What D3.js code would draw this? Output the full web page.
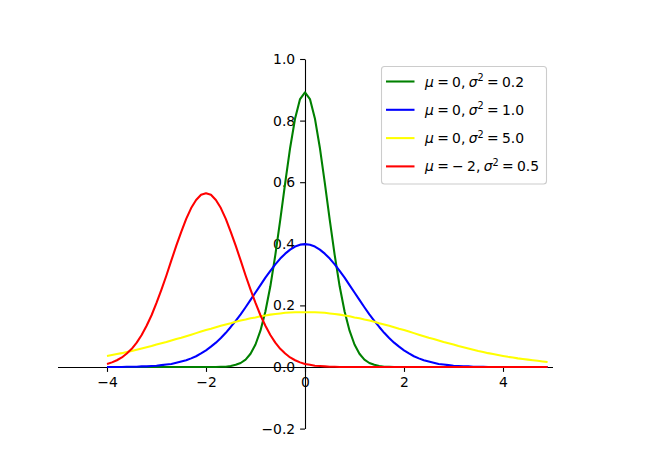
<!DOCTYPE html>
<html>
<head>
<meta charset="utf-8">
<script src="https://cdn.jsdelivr.net/npm/d3@7"></script>
<style>
  body { margin: 0; background: #fff; }
  svg { display: block; font-family: "DejaVu Sans", sans-serif; }
</style>
</head>
<body>
<svg id="chart" width="670" height="472"></svg>
<script>
// sample positions shared by all curves
var xs = [-4.0,-3.9,-3.8,-3.7,-3.6,-3.5,-3.4,-3.3,-3.2,-3.1,-3.0,-2.9,-2.8,-2.7,-2.6,-2.5,-2.4,-2.3,-2.2,-2.1,
  -2.0,-1.9,-1.8,-1.7,-1.6,-1.5,-1.4,-1.3,-1.2,-1.1,-1.0,-0.9,-0.8,-0.7,-0.6,-0.5,-0.4,-0.3,-0.2,-0.1,
  0.0,0.1,0.2,0.3,0.4,0.5,0.6,0.7,0.8,0.9,1.0,1.1,1.2,1.3,1.4,1.5,1.6,1.7,1.8,1.9,
  2.0,2.1,2.2,2.3,2.4,2.5,2.6,2.7,2.8,2.9,3.0,3.1,3.2,3.3,3.4,3.5,3.6,3.7,3.8,3.9,
  4.0,4.1,4.2,4.3,4.4,4.5,4.6,4.7,4.8,4.9];

var greenVals = [0,0,0,0,0,0,0,0,0,0,0,0,0,0,0,0,0,0,0,0,0,0,0,
  0.001,0.001,0.003,0.007,0.013,0.024,0.043,0.073,0.118,0.180,0.262,0.363,0.478,0.598,0.712,0.807,0.870,
  0.892,
  0.870,0.807,0.712,0.598,0.478,0.363,0.262,0.180,0.118,0.073,0.043,0.024,0.013,0.007,0.003,0.001,0.001,
  0,0,0,0,0,0,0,0,0,0,0,0,0,0,0,0,0,0,0,0,0,0,0,0,0,0,0,0,0,0,0,0];

var blueVals = [0.000,0.000,0.000,0.000,0.001,0.001,0.001,0.002,0.002,0.003,0.004,0.006,0.008,0.010,0.014,0.018,0.022,0.028,0.035,0.044,
  0.054,0.066,0.079,0.094,0.111,0.130,0.150,0.171,0.194,0.218,0.242,0.266,0.290,0.312,0.333,0.352,0.368,0.381,0.391,0.397,
  0.399,
  0.397,0.391,0.381,0.368,0.352,0.333,0.312,0.290,0.266,0.242,0.218,0.194,0.171,0.150,0.130,0.111,0.094,0.079,0.066,0.054,
  0.044,0.035,0.028,0.022,0.018,0.014,0.010,0.008,0.006,0.004,0.003,0.002,0.002,0.001,0.001,0.001,0.000,0.000,0.000,0.000,
  0,0,0,0,0,0,0,0,0];

var yellowVals = [0.036,0.039,0.042,0.045,0.049,0.052,0.056,0.060,0.064,0.068,0.073,0.077,0.081,0.086,0.091,0.095,0.100,0.105,0.110,0.115,
  0.120,0.124,0.129,0.134,0.138,0.142,0.147,0.151,0.154,0.158,0.161,0.165,0.167,0.170,0.172,0.174,0.176,0.177,0.178,0.178,
  0.178,
  0.178,0.178,0.177,0.176,0.174,0.172,0.170,0.167,0.165,0.161,0.158,0.154,0.151,0.147,0.142,0.138,0.134,0.129,0.124,0.120,
  0.115,0.110,0.105,0.100,0.095,0.091,0.086,0.081,0.077,0.073,0.068,0.064,0.060,0.056,0.052,0.049,0.045,0.042,0.039,0.036,
  0.033,0.031,0.028,0.026,0.024,0.022,0.020,0.018,0.016];

var redVals = [0.010,0.015,0.022,0.031,0.044,0.059,0.079,0.104,0.134,0.168,0.208,0.251,0.297,0.346,0.394,0.439,0.481,0.516,0.542,0.559,
  0.564,
  0.559,0.542,0.516,0.481,0.439,0.394,0.346,0.297,0.251,0.208,0.168,0.134,0.104,0.079,0.059,0.044,0.031,0.022,0.015,0.010,
  0.007,0.004,0.003,0.002,0.001,0.001,
  0,0,0,0,0,0,0,0,0,0,0,0,0,0,0,0,0,0,0,0,0,0,0,0,0,0,0,0,0,0,0,0,0,0,0,0,0,0,0,0,0,0,0];

var seriesColors = ["green", "#0000ff", "#ffff00", "#ff0000"];
var seriesMu = ["0", "0", "0", "\u2212 2"];
var seriesVar = ["0.2", "1.0", "5.0", "0.5"];
var xTicks = [-4, -2, 0, 2, 4];
var yTicks = [-0.2, 0.0, 0.2, 0.4, 0.6, 0.8, 1.0];

var allVals = [greenVals, blueVals, yellowVals, redVals];

var svg = d3.select("#chart"),
    fontSize = 13.9,
    tickLen = 4.9;

var x = d3.scaleLinear().domain([-5, 5]).range([57.5, 552.5]),
    y = d3.scaleLinear().domain([-0.2, 1.0]).range([428.6, 59]);

var fmtMinus = function (s) { return s.replace("-", "\u2212"); };

// axes through the origin
var xAxis = svg.append("g").attr("transform", "translate(0," + y(0) + ")")
  .call(d3.axisBottom(x).tickValues(xTicks).tickSize(tickLen).tickSizeOuter(0).tickPadding(4.9)
    .tickFormat(function (d) { return fmtMinus(d3.format("d")(d)); }));
var yAxis = svg.append("g").attr("transform", "translate(" + x(0) + ",0)")
  .call(d3.axisLeft(y).tickValues(yTicks).tickSize(tickLen).tickSizeOuter(0).tickPadding(4.9)
    .tickFormat(function (d) { return fmtMinus(d3.format(".1f")(d)); }));

[xAxis, yAxis].forEach(function (g) {
  g.select(".domain").attr("stroke", "#000").attr("stroke-width", 1.1);
  g.selectAll(".tick line").attr("stroke", "#000").attr("stroke-width", 1.1);
  g.selectAll(".tick text").attr("fill", "#000")
    .style("font-size", fontSize + "px").style("font-family", "DejaVu Sans");
});

var line = d3.line()
  .x(function (d) { return x(d[0]); })
  .y(function (d) { return y(d[1]); });

allVals.forEach(function (vals, k) {
  svg.append("path")
    .datum(xs.map(function (xv, i) { return [xv, vals[i]]; }))
    .attr("d", line)
    .attr("fill", "none")
    .attr("stroke", seriesColors[k])
    .attr("stroke-width", 2.08)
    .attr("stroke-linejoin", "round");
});

// legend
var lg = svg.append("g");
lg.append("rect").attr("x", 381.5).attr("y", 66.5).attr("width", 165).attr("height", 117.5)
  .attr("rx", 3).attr("fill", "#fff").attr("fill-opacity", 0.8)
  .attr("stroke", "#cccccc").attr("stroke-width", 1.1);

seriesColors.forEach(function (c, k) {
  var cy = 81.5 + k * 28.3;
  lg.append("line").attr("x1", 386).attr("x2", 414.5).attr("y1", cy).attr("y2", cy)
    .attr("stroke", c).attr("stroke-width", 2.08);
  var t = lg.append("text").attr("x", 425).attr("y", cy + 5)
    .style("font-size", fontSize + "px").style("word-spacing", "-1.1px").attr("fill", "#000");
  t.append("tspan").style("font-style", "italic").text("\u03bc");
  t.append("tspan").text(" = " + seriesMu[k] + ", ");
  t.append("tspan").style("font-style", "italic").text("\u03c3");
  t.append("tspan").attr("dy", -5.5).style("font-size", "9.7px").text("2");
  t.append("tspan").attr("dy", 5.5).text(" = " + seriesVar[k]);
});
</script>
</body>
</html>
